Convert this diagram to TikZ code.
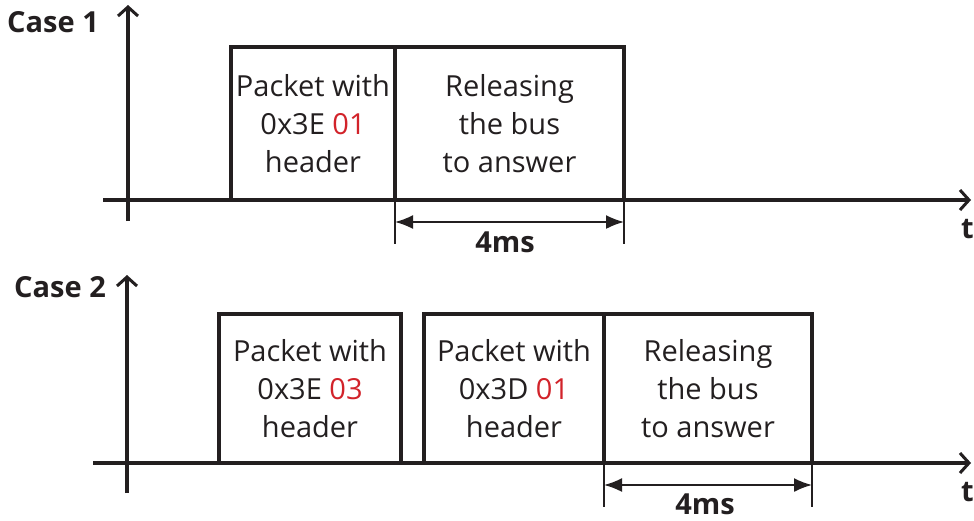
\documentclass[tikz,border=0pt]{standalone}
\usepackage{fontspec}
\setmainfont{Open Sans}
\usetikzlibrary{arrows.meta}
\definecolor{ink}{HTML}{231F20}
\definecolor{hred}{HTML}{D2232A}
\tikzset{
  axisline/.style={draw=ink, line width=3.2pt, -{Straight Barb[length=9pt,width=20pt,line width=3pt]}},
  box/.style={draw=ink, line width=3.2pt, inner sep=0pt, outer sep=0pt, align=center, text=ink,
     font=\fontsize{29}{38}\selectfont},
  dimline/.style={draw=ink, line width=1.5pt},
  dimarrow/.style={draw=ink, line width=1.8pt, {Latex[length=18pt,width=14pt]}-{Latex[length=18pt,width=14pt]}},
  lbl/.style={text=ink, font=\fontsize{29}{32}\selectfont\bfseries, inner sep=0pt},
  tlbl/.style={text=ink, font=\fontsize{29}{32}\selectfont\bfseries, inner sep=0pt, anchor=east}
}
\begin{document}
\begin{tikzpicture}[x=1pt,y=-1pt]
\useasboundingbox[fill=white] (0,0) rectangle (974,520);
% ---------- Case 1 ----------
\node[lbl, anchor=west] (c1) at (7,22) {Case 1};
\coordinate (v1b) at (128,221);
\coordinate (v1t) at (128,5);
\coordinate (h1l) at (103,200);
\coordinate (h1r) at (971,200);
\draw[axisline] (v1b) -- (v1t);
\draw[axisline] (h1l) -- (h1r);
\node[tlbl] (t1) at (974,229) {t};
\node[box, minimum width=164pt, minimum height=153pt, anchor=south west] (p1) at (231,200)
  {Packet with\\0x3E \textcolor{hred}{01}\\header};
\node[box, minimum width=229pt, minimum height=153pt, anchor=south west] (r1) at (395,200)
  {Releasing\\the bus\\to answer};
\coordinate (e1a) at (395,244);
\coordinate (e1b) at (624,244);
\draw[dimline] (r1.south west) -- (e1a);
\draw[dimline] (r1.south east) -- (e1b);
\coordinate (d1a) at (395,222);
\coordinate (d1b) at (624,222);
\draw[dimarrow] (d1a) -- (d1b);
\node[lbl] (m1) at (505,242) {4ms};
% ---------- Case 2 ----------
\node[lbl, anchor=west] (c2) at (14,287) {Case 2};
\coordinate (v2b) at (127,493);
\coordinate (v2t) at (127,275);
\coordinate (h2l) at (93,463);
\coordinate (h2r) at (971,463);
\draw[axisline] (v2b) -- (v2t);
\draw[axisline] (h2l) -- (h2r);
\node[tlbl] (t2) at (974,492) {t};
\node[box, minimum width=182pt, minimum height=149pt, anchor=south west] (pa) at (219,463)
  {Packet with\\0x3E \textcolor{hred}{03}\\header};
\node[box, minimum width=180pt, minimum height=149pt, anchor=south west] (pb) at (424,463)
  {Packet with\\0x3D \textcolor{hred}{01}\\header};
\node[box, minimum width=208pt, minimum height=149pt, anchor=south west] (r2) at (604,463)
  {Releasing\\the bus\\to answer};
\coordinate (e2a) at (604,507);
\coordinate (e2b) at (812,507);
\draw[dimline] (r2.south west) -- (e2a);
\draw[dimline] (r2.south east) -- (e2b);
\coordinate (d2a) at (604,485);
\coordinate (d2b) at (812,485);
\draw[dimarrow] (d2a) -- (d2b);
\node[lbl] (m2) at (705,504) {4ms};
\end{tikzpicture}
\end{document}
